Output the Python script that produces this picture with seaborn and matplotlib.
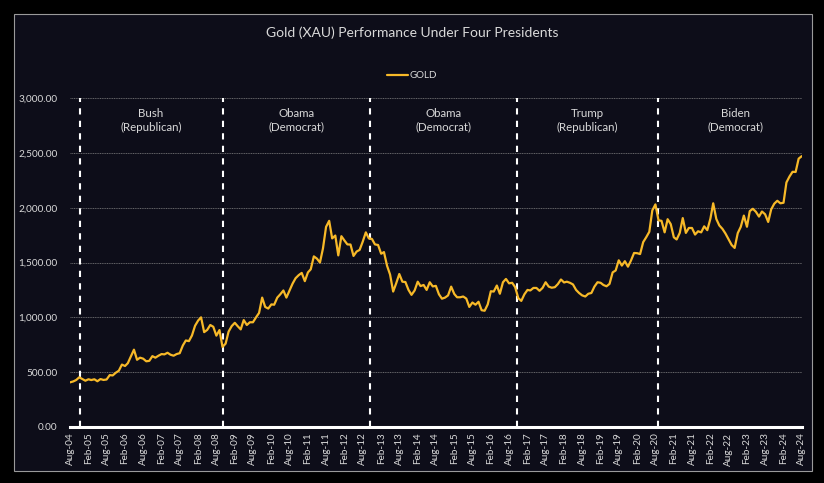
import pandas as pd
import matplotlib.pyplot as plt
import matplotlib.patches as mpatches
import seaborn as sns

sns.set_theme(style='dark')
plt.rcParams['font.family'] = ['Lato', 'DejaVu Sans']

# monthly gold price (USD/oz), Aug-2004 .. Aug-2024
gold_2004 = [407, 415, 428, 453, 438]
gold_2005 = [422, 435, 428, 435, 417, 437, 429, 433, 473, 470, 495, 513]
gold_2006 = [569, 556, 582, 644, 705, 613, 632, 623, 599, 603, 646, 632]
gold_2007 = [650, 665, 662, 677, 659, 650, 665, 673, 743, 789, 783, 834]
gold_2008 = [923, 971, 1000, 865, 885, 930, 914, 833, 884, 730, 760, 870]
gold_2009 = [920, 950, 920, 890, 975, 930, 955, 955, 1000, 1040, 1180, 1095]
gold_2010 = [1080, 1118, 1115, 1180, 1210, 1245, 1180, 1245, 1308, 1357, 1385, 1405]
gold_2011 = [1330, 1410, 1438, 1556, 1536, 1500, 1628, 1825, 1880, 1720, 1746, 1565]
gold_2012 = [1740, 1700, 1665, 1664, 1560, 1600, 1615, 1690, 1775, 1720, 1715, 1665]
gold_2013 = [1660, 1580, 1595, 1470, 1390, 1235, 1310, 1395, 1325, 1322, 1250, 1205]
gold_2014 = [1245, 1325, 1285, 1295, 1250, 1320, 1282, 1287, 1210, 1170, 1180, 1200]
gold_2015 = [1280, 1213, 1183, 1183, 1190, 1171, 1095, 1135, 1115, 1142, 1065, 1060]
gold_2016 = [1118, 1238, 1235, 1290, 1215, 1320, 1350, 1310, 1315, 1275, 1175, 1150]
gold_2017 = [1210, 1250, 1245, 1268, 1268, 1242, 1268, 1320, 1280, 1270, 1275, 1303]
gold_2018 = [1345, 1318, 1325, 1315, 1300, 1250, 1222, 1200, 1190, 1215, 1222, 1280]
gold_2019 = [1320, 1315, 1295, 1283, 1305, 1410, 1427, 1520, 1472, 1512, 1462, 1518]
gold_2020 = [1587, 1585, 1577, 1686, 1730, 1780, 1975, 2030, 1885, 1880, 1775, 1895]
gold_2021 = [1850, 1730, 1710, 1770, 1905, 1770, 1815, 1815, 1755, 1785, 1775, 1830]
gold_2022 = [1795, 1900, 2040, 1897, 1838, 1807, 1765, 1712, 1660, 1633, 1768, 1825]
gold_2023 = [1928, 1826, 1969, 1990, 1963, 1919, 1965, 1940, 1870, 1985, 2037, 2063]
gold_2024 = [2040, 2045, 2230, 2285, 2327, 2326, 2447, 2470]

gold = (gold_2004 + gold_2005 + gold_2006 + gold_2007 + gold_2008 + gold_2009
        + gold_2010 + gold_2011 + gold_2012 + gold_2013 + gold_2014 + gold_2015
        + gold_2016 + gold_2017 + gold_2018 + gold_2019 + gold_2020 + gold_2021
        + gold_2022 + gold_2023 + gold_2024)
dates = pd.date_range('2004-08-01', periods=len(gold), freq='MS')

# term boundaries as drawn on the chart, and the labels between them
terms = ['2004-11-05', '2008-10-05', '2012-10-10', '2016-10-15', '2020-08-25']
term_labels = ['Bush\n(Republican)', 'Obama\n(Democrat)', 'Obama\n(Democrat)',
               'Trump\n(Republican)', 'Biden\n(Democrat)']
label_dates = ['2006-10-18', '2010-10-13', '2014-10-20', '2018-09-22', '2022-10-13']

df = pd.DataFrame({'date': dates, 'GOLD': gold})

bg = '#0d0d19'
txt = '#d9d9d9'

fig = plt.figure(figsize=(8.24, 4.83), dpi=100, facecolor='black')
fig.patches.append(mpatches.Rectangle((0.017, 0.025), 0.968, 0.946,
                                      transform=fig.transFigure, facecolor=bg,
                                      edgecolor='#9a9a9a', linewidth=0.8, zorder=-5))
ax = fig.add_axes([0.085, 0.116, 0.888, 0.681])
ax.set_facecolor(bg)

sns.lineplot(data=df, x='date', y='GOLD', ax=ax, color='#f7b928', linewidth=1.6,
             label='GOLD', zorder=3)

for d in terms:
    ax.axvline(pd.Timestamp(d), color='white', linestyle=(0, (3, 3)),
               linewidth=1.5, zorder=2)
for d, lab in zip(label_dates, term_labels):
    ax.text(pd.Timestamp(d), 2795, lab, ha='center', va='center',
            color=txt, fontsize=8.3, linespacing=1.25)

ax.set_ylim(0, 3000)
ax.set_yticks(range(0, 3001, 500))
ax.set_yticklabels([f'{v:,.2f}' for v in range(0, 3001, 500)])
ax.grid(axis='y', color='#8a8a8a', linestyle=(0, (1.5, 1)), linewidth=0.5)
ax.grid(axis='x', visible=False)

xticks = pd.date_range('2004-08-01', '2024-08-01', freq='6MS')
ax.set_xlim(xticks[0], xticks[-1])
ax.set_xticks(xticks)
ax.set_xticklabels([t.strftime('%b-%y') for t in xticks], rotation=90)
ax.tick_params(axis='both', colors=txt, labelsize=7.2, length=0)
ax.tick_params(axis='y', pad=9)
ax.tick_params(axis='x', pad=4)
ax.set_xlabel('')
ax.set_ylabel('')

for s in ['top', 'right', 'left']:
    ax.spines[s].set_visible(False)
ax.spines['bottom'].set_color('white')
ax.spines['bottom'].set_linewidth(2.2)

leg = ax.legend(loc='center', bbox_to_anchor=(0.5, 0.843),
                bbox_transform=fig.transFigure, frameon=False, fontsize=7,
                handlelength=2.2, handletextpad=0.2)
for t in leg.get_texts():
    t.set_color(txt)

fig.text(0.5, 0.932, 'Gold (XAU) Performance Under Four Presidents',
         ha='center', va='center', color=txt, fontsize=10)

fig.savefig('out.png', dpi=100, facecolor='black')
